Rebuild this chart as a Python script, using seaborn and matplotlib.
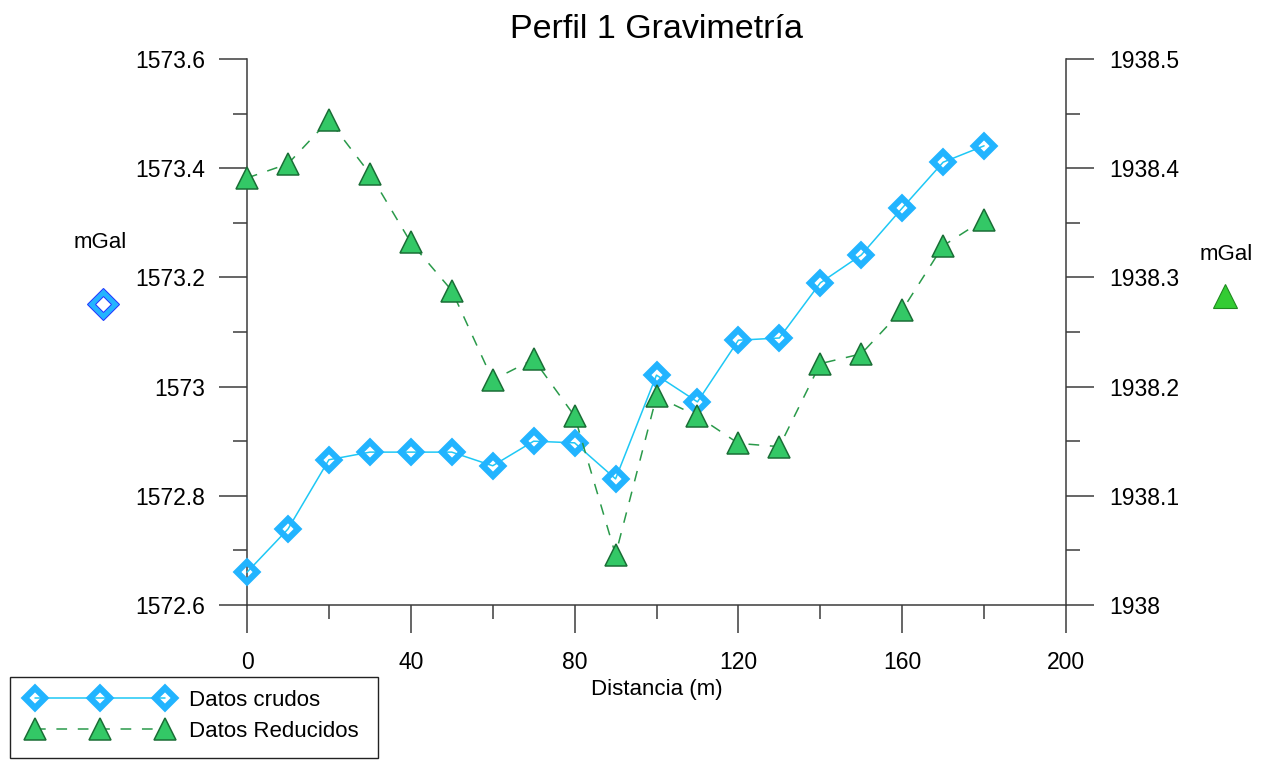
import matplotlib
matplotlib.use("Agg")
import matplotlib.pyplot as plt
import seaborn as sns
from matplotlib.lines import Line2D
from matplotlib.patches import Rectangle
from matplotlib.markers import MarkerStyle
from matplotlib.ticker import FixedLocator

# ---- data ----
distancia = [0, 10, 20, 30, 40, 50, 60, 70, 80, 90, 100, 110, 120, 130, 140, 150, 160, 170, 180]
datos_crudos = [1572.660, 1572.739, 1572.866, 1572.880, 1572.880, 1572.880, 1572.855, 1572.900,
                1572.897, 1572.831, 1573.021, 1572.972, 1573.085, 1573.089, 1573.190, 1573.241,
                1573.327, 1573.411, 1573.441]
datos_reducidos = [1938.391, 1938.404, 1938.444, 1938.395, 1938.332, 1938.288, 1938.206, 1938.225,
                   1938.173, 1938.046, 1938.191, 1938.173, 1938.148, 1938.145, 1938.221, 1938.230,
                   1938.270, 1938.329, 1938.353]
x_ticks = [0, 40, 80, 120, 160, 200]
x_minor = [20, 60, 100, 140, 180]
left_ticks = [1572.6, 1572.8, 1573.0, 1573.2, 1573.4, 1573.6]
left_labels = ["1572.6", "1572.8", "1573", "1573.2", "1573.4", "1573.6"]
left_minor = [1572.7, 1572.9, 1573.1, 1573.3, 1573.5]
right_ticks = [1938.0, 1938.1, 1938.2, 1938.3, 1938.4, 1938.5]
right_labels = ["1938", "1938.1", "1938.2", "1938.3", "1938.4", "1938.5"]
right_minor = [1938.05, 1938.15, 1938.25, 1938.35, 1938.45]

sns.set_style("white")
plt.rcParams['font.family'] = ['Liberation Sans', 'DejaVu Sans']
plt.rcParams['text.color'] = 'black'
plt.rcParams['axes.labelcolor'] = 'black'
plt.rcParams['xtick.color'] = 'black'
plt.rcParams['ytick.color'] = 'black'

W, H = 1268, 760
fig = plt.figure(figsize=(12.68, 7.60), dpi=100)
ax = fig.add_axes([247/W, 1-605/H, (1066-247)/W, (605-59)/H])
ax2 = ax.twinx()

blue_line = '#1ec8f5'
blue_mk = '#22b4ff'
green_face = '#33c866'
green_edge = '#1a6e36'
green_line = '#2a9a4a'
spine_c = '#3c3c3c'

diamond = MarkerStyle('D', joinstyle='miter')
tri = MarkerStyle('^', joinstyle='miter')

sns.lineplot(x=distancia, y=datos_crudos, ax=ax, color=blue_line, lw=1.1,
             marker=diamond, markersize=10.6, markeredgewidth=4.5, markeredgecolor=blue_mk,
             markerfacecolor='none', clip_on=False, zorder=3)
sns.lineplot(x=distancia, y=datos_reducidos, ax=ax2, color=green_line, lw=1.1,
             dashes=(7, 7), marker=tri, markersize=16.5, markeredgewidth=1.1,
             markeredgecolor=green_edge, markerfacecolor=green_face, clip_on=False, zorder=3)

ax.set_xlim(0, 200)
ax.set_ylim(1572.6, 1573.6)
ax2.set_ylim(1938.0, 1938.5)

for a in (ax, ax2):
    a.spines['top'].set_visible(False)
    for s in a.spines.values():
        s.set_color(spine_c)
        s.set_linewidth(1.1)
    a.grid(False)
ax.spines['right'].set_visible(False)
ax2.spines['left'].set_visible(False)
ax2.spines['bottom'].set_visible(False)

ax.xaxis.set_major_locator(FixedLocator(x_ticks))
ax.xaxis.set_minor_locator(FixedLocator(x_minor))
ax.set_xticklabels([str(v) for v in x_ticks])
ax.yaxis.set_major_locator(FixedLocator(left_ticks))
ax.yaxis.set_minor_locator(FixedLocator(left_minor))
ax.set_yticklabels(left_labels)
ax2.yaxis.set_major_locator(FixedLocator(right_ticks))
ax2.yaxis.set_minor_locator(FixedLocator(right_minor))
ax2.set_yticklabels(right_labels)

ax.tick_params(axis='x', which='major', direction='out', length=20, width=1.1, color=spine_c,
               labelsize=16.5, labelcolor='black', pad=13, bottom=True)
ax.tick_params(axis='x', which='minor', direction='out', length=10, width=1.1, color=spine_c, bottom=True)
ax.tick_params(axis='y', which='major', direction='out', length=20, width=1.1, color=spine_c,
               labelsize=16.5, labelcolor='black', pad=10, left=True)
ax.tick_params(axis='y', which='minor', direction='out', length=10, width=1.1, color=spine_c, left=True)
ax2.tick_params(axis='y', which='major', direction='out', length=20, width=1.1, color=spine_c,
                labelsize=16.5, labelcolor='black', pad=11, right=True)
ax2.tick_params(axis='y', which='minor', direction='out', length=10, width=1.1, color=spine_c, right=True)

ax.set_xlabel("Distancia (m)", fontsize=16, labelpad=4, color='black')
ax.set_ylabel("")
ax2.set_ylabel("")
ax.set_title("Perfil 1 Gravimetría", fontsize=24.5, pad=15, color='black')

# axis unit labels with symbols
fig.text(100/W, 1-243/H, "mGal", fontsize=16, ha='center', va='center', color='black')
fig.text(1226/W, 1-255/H, "mGal", fontsize=16, ha='center', va='center', color='black')
fig.add_artist(Line2D([103/W], [1-304/H], transform=fig.transFigure, marker=diamond,
                      markersize=12.2, markerfacecolor='white', markeredgecolor='#22b4ff',
                      markeredgewidth=3.6, linestyle='none'))
fig.add_artist(Line2D([103/W], [1-304/H], transform=fig.transFigure, marker=diamond,
                      markersize=15.8, markerfacecolor='none', markeredgecolor='#1a3cff',
                      markeredgewidth=0.8, linestyle='none'))
fig.add_artist(Line2D([103/W], [1-304/H], transform=fig.transFigure, marker=diamond,
                      markersize=8.6, markerfacecolor='none', markeredgecolor='#1a3cff',
                      markeredgewidth=0.8, linestyle='none'))
fig.add_artist(Line2D([1225/W], [1-296/H], transform=fig.transFigure, marker=tri,
                      markersize=17, markerfacecolor='#33cc33', markeredgecolor='#1f8a1f',
                      markeredgewidth=0.8, linestyle='none'))

# legend box (drawn as a frame) and legend entries
fig.add_artist(Rectangle((10/W, 1-758/H), (378-10)/W, (758-677)/H, transform=fig.transFigure,
                         facecolor='white', edgecolor='#222222', linewidth=1.0, zorder=4))
h1 = ax.get_lines()[0]
h2 = ax2.get_lines()[0]
leg = fig.legend([h1, h2], ["Datos crudos", "Datos Reducidos"], loc='center left',
                 bbox_to_anchor=(28/W, 1-716/H), bbox_transform=fig.transFigure,
                 borderaxespad=0, numpoints=3, handlelength=6.45, fontsize=16,
                 frameon=False, borderpad=0.0, labelspacing=0.45, handletextpad=0.8)
leg.set_zorder(5)

fig.savefig("out.png", dpi=100)
